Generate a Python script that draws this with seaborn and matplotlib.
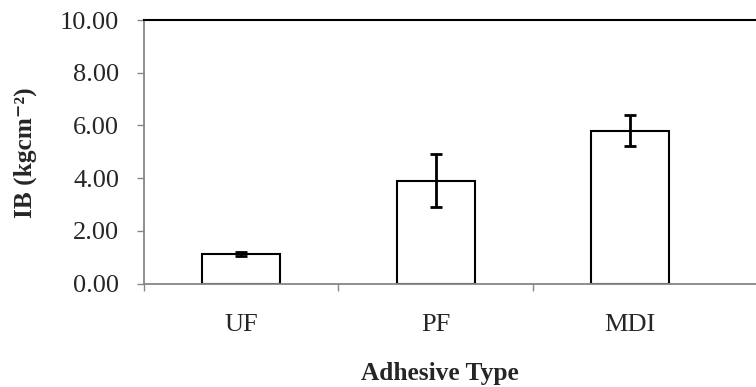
import seaborn as sns
import pandas as pd
import numpy as np
import matplotlib
matplotlib.use("Agg")
import matplotlib.pyplot as plt

# values
adhesive = ["UF", "PF", "MDI"]
ib_mean = [1.12, 3.90, 5.80]
ib_sd = [0.06, 1.01, 0.58]

df = pd.DataFrame({"Adhesive Type": adhesive, "IB": ib_mean})

sns.set_style("ticks")
plt.rcParams['font.family'] = ['Liberation Serif', 'DejaVu Serif']

fig = plt.figure(figsize=(7.56, 3.87), dpi=100)
ax = fig.add_axes([0.1905, 0.2674, 0.8095, 0.6809])

sns.barplot(data=df, x="Adhesive Type", y="IB", color="white", width=0.4,
            edgecolor="black", linewidth=1.5, ax=ax)
ax.errorbar(np.arange(len(adhesive)), ib_mean, yerr=ib_sd, fmt="none",
            ecolor="black", elinewidth=2, capsize=4, capthick=2)

ax.set_ylim(0, 10)
ax.set_xlim(-0.5, 2.647)
ax.set_yticks(np.arange(0, 10.1, 2))
ax.set_yticklabels([f"{v:.2f}" for v in np.arange(0, 10.1, 2)])

# excel style: ticks between categories, labels centred
ax.set_xticks([-0.5, 0.5, 1.5])
ax.set_xticklabels([])
ax.set_xticks(range(len(adhesive)), minor=True)
ax.set_xticklabels(adhesive, minor=True)
ax.tick_params(axis="x", which="major", length=5, width=1, color="#868686", direction="out")
ax.tick_params(axis="x", which="minor", length=0, pad=22, labelsize=19)
ax.tick_params(axis="y", length=5, width=1, color="#868686", pad=13, labelsize=19)

for s in ["left", "bottom"]:
    ax.spines[s].set_color("#868686")
    ax.spines[s].set_linewidth(1.3)
ax.spines["top"].set_visible(True)
ax.spines["top"].set_color("black")
ax.spines["top"].set_linewidth(1.5)
ax.spines["right"].set_visible(False)

ax.set_xlabel("Adhesive Type", fontsize=18.3, fontweight="bold")
ax.set_ylabel("IB (kgcm⁻²)", fontsize=18.3, fontweight="bold")
ax.xaxis.set_label_coords(0.484, -0.298)
ax.yaxis.set_label_coords(-0.175, 0.495)

fig.savefig("out.png", dpi=100)
